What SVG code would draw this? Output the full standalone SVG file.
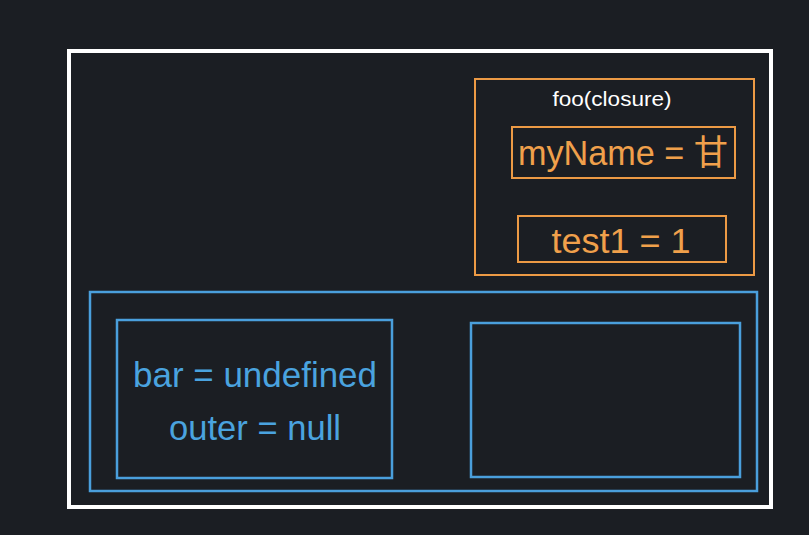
<svg xmlns="http://www.w3.org/2000/svg" width="809" height="535" viewBox="0 0 809 535">
<style>
.bg{fill:#1b1e23}
.frame{fill:none;stroke:#ffffff;stroke-width:4}
.org{fill:none;stroke:#ec9a45;stroke-width:2}
.blu{fill:none;stroke:#4a9fdc;stroke-width:2.5}
.t{font-family:"Liberation Sans",Arial,"Noto Sans CJK SC",sans-serif;text-anchor:middle}
.to{fill:#f0a04b;font-size:35px}
.tb{fill:#4aa3df;font-size:35px}
.tw{fill:#ffffff;font-size:20px}
</style>
<rect class="bg" x="0" y="0" width="809" height="535"/>
<g id="outer"><rect class="frame" x="69" y="51" width="702" height="456"/></g>
<g id="closure">
<rect class="org" x="475" y="79" width="279" height="196"/>
<text class="t tw" x="612" y="106" textLength="119" lengthAdjust="spacingAndGlyphs">foo(closure)</text>
</g>
<g id="myName">
<rect class="org" x="512" y="127" width="223" height="51"/>
<text class="t to" x="623" y="165" textLength="210" lengthAdjust="spacingAndGlyphs">myName = 甘</text>
</g>
<g id="test1">
<rect class="org" x="518" y="216" width="208" height="46"/>
<text class="t to" x="621" y="253" textLength="139" lengthAdjust="spacingAndGlyphs">test1 = 1</text>
</g>
<g id="stack">
<rect class="blu" x="90" y="292" width="667" height="199"/>
</g>
<g id="vars">
<rect class="blu" x="117" y="320" width="275" height="158"/>
<text class="t tb" x="255" y="387" textLength="244" lengthAdjust="spacingAndGlyphs">bar = undefined</text>
<text class="t tb" x="255" y="440" textLength="172" lengthAdjust="spacingAndGlyphs">outer = null</text>
</g>
<g id="empty">
<rect class="blu" x="471" y="323" width="269" height="154"/>
</g>
<g id="connectors"></g>
</svg>
